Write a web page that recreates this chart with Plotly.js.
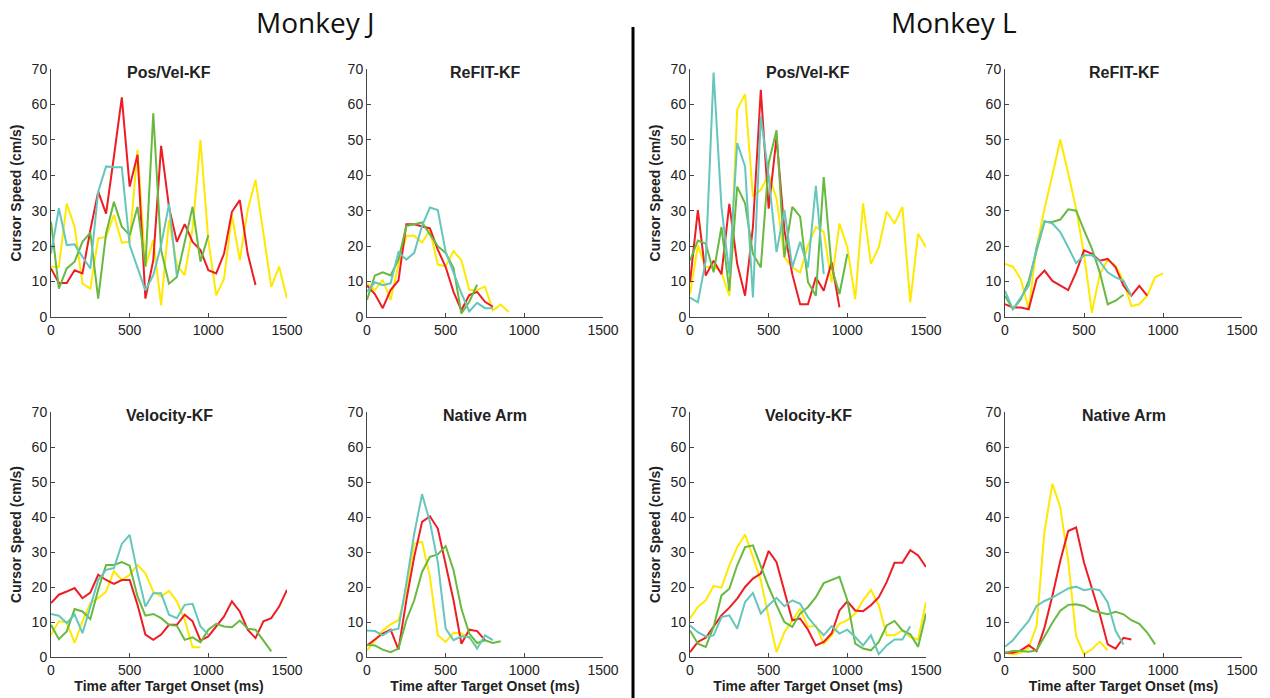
<!DOCTYPE html>
<html>
<head>
<meta charset="utf-8">
<script src="https://cdn.plot.ly/plotly-3.0.1.min.js"></script>
<style>
  html, body { margin: 0; padding: 0; background: #fff; }
  #chart { width: 1270px; height: 698px; }
</style>
</head>
<body>
<div id="chart"></div>
<script>
// Sample times (ms after target onset), one sample every 50 ms
const timeMs = [0, 50, 100, 150, 200, 250, 300, 350, 400, 450, 500, 550, 600, 650, 700, 750,
  800, 850, 900, 950, 1000, 1050, 1100, 1150, 1200, 1250, 1300, 1350, 1400, 1450, 1500];

const panelTitles = ['Pos/Vel-KF', 'ReFIT-KF', 'Pos/Vel-KF', 'ReFIT-KF',
  'Velocity-KF', 'Native Arm', 'Velocity-KF', 'Native Arm'];
const groupTitles = ['Monkey J', 'Monkey L'];
const xTicks = [0, 500, 1000, 1500];
const yTicks = [0, 10, 20, 30, 40, 50, 60, 70];

// ---- Monkey J, Pos/Vel-KF (cursor speed, cm/s)
const jPosVelRed = [13.7, 9.6, 9.6, 13.2, 12.3, 24.5, 35.4, 29.2, 45.3, 62, 36.8, 45.8, 5.2, 16, 48.3, 31,
  21.2, 26.2, 21.2, 18.9, 13.2, 12.3, 17.9, 29.7, 33, 17.9, 9];
const jPosVelYellow = [14.2, 14.2, 32, 25.5, 9.4, 8, 22.2, 22.6, 28.8, 21, 21.2, 47.2, 14.2, 21.7, 3.3, 27.4,
  14.6, 11.8, 25, 50, 21.7, 6.1, 10.8, 28.8, 16, 30.2, 38.7, 23.6, 8.5, 14.2, 5.2];
const jPosVelGreen = [26.9, 8, 13.7, 15.6, 21.2, 23.8, 5.2, 23.6, 32.5, 25.5, 23.1, 31.1, 14.2, 57.5, 18.9, 9.4,
  11.3, 20.8, 31.1, 15.6, 23.1];
const jPosVelTeal = [17.9, 30.7, 20.3, 20.5, 17, 13.7, 35.4, 42.5, 42.3, 42.3, 20.3, 14.2, 7.5, 11.8, 20.3, 31.9, 11.5];

// ---- Monkey J, ReFIT-KF
const jRefitRed = [8.9, 6.5, 2.5, 7.6, 10.3, 26.2, 26.2, 25.7, 25, 19, 14.1, 7.1, 1.9, 6.2, 7.1, 4.3, 2.9];
const jRefitYellow = [9.5, 7.6, 10.5, 4.8, 14.8, 22.9, 22.9, 21, 24.5, 14.8, 14.3, 18.6, 16, 7.6, 7.6, 8.6,
  1.9, 3.5, 1.4];
const jRefitGreen = [4.8, 11.7, 12.6, 11.7, 16.2, 25.7, 26.2, 26.7, 23.3, 20, 18.1, 13.8, 1, 4.3, 9.1];
const jRefitTeal = [7.1, 9.8, 9, 9.5, 18.3, 16.2, 18.1, 25.7, 30.9, 30.2, 18.4, 12.4, 6.7, 1.6, 4, 2.5, 2.5];

// ---- Monkey L, Pos/Vel-KF
const lPosVelRed = [9.8, 30.2, 11.7, 15.9, 12.1, 31.9, 15, 6, 25.4, 64.1, 30.6, 50.6, 24.5, 12.1, 3.6, 3.6,
  11.2, 7.4, 15.5, 2.7];
const lPosVelYellow = [6.5, 20.2, 14, 14.5, 12.6, 6, 58.6, 62.9, 34, 35.9, 40.1, 33.5, 16.9, 14, 12.6, 20.2,
  25.4, 24, 9.8, 26.4, 19.7, 5, 32.1, 15, 19.7, 29.7, 26.4, 31.1, 4.1, 23.5, 19.7];
const lPosVelGreen = [15.9, 21.6, 20.7, 12.6, 25.4, 7.4, 36.8, 32.1, 17.8, 14, 43.5, 52.7, 16.9, 31.1, 28.3, 9.8,
  6, 39.5, 14, 6.5, 17.8];
const lPosVelTeal = [5.5, 4.1, 15.9, 69, 31.1, 12.1, 49.1, 42.5, 5.5, 56.7, 39.7, 18.3, 30.2, 14, 21.2, 14,
  37, 12.1];

// ---- Monkey L, ReFIT-KF
const lRefitRed = [3.6, 2.7, 2.7, 2.2, 10.7, 13.1, 10.2, 8.8, 7.6, 12.6, 18.8, 17.8, 15.9, 16.4, 14, 8.8,
  6, 8.8, 6];
const lRefitYellow = [15, 14.2, 10.7, 2.2, 19.7, 30.6, 40.1, 50.1, 40.6, 30.6, 17.8, 1.2, 12.1, 16.1, 14.5, 10.2,
  3.1, 3.6, 6, 11.2, 12.3];
const lRefitGreen = [6, 2.2, 5, 10.2, 18.8, 26.8, 26.8, 27.5, 30.4, 30, 24.5, 19.3, 12.6, 3.6, 4.6, 6.3];
const lRefitTeal = [7.4, 2.2, 5.5, 8.8, 19.7, 27.1, 26.4, 24, 19.7, 15.2, 17.4, 17.4, 15.7, 12.6, 11.2, 10.2, 6];

// ---- Monkey J, Velocity-KF
const jVelRed = [15.4, 17.8, 18.7, 19.7, 16.8, 18.4, 23.5, 22, 20.9, 22, 22, 14.9, 6.4, 4.9, 6.4, 9.2,
  9.2, 12.1, 10.2, 4.7, 5.9, 8.7, 11.6, 15.9, 13, 7.8, 5.4, 10.2, 11.1, 14.4, 19.2];
const jVelYellow = [6.4, 10.2, 9.9, 4, 10.2, 15.4, 16.8, 18.7, 24.5, 22, 23.5, 26.3, 23.9, 18.7, 17.3, 18.9,
  15.9, 10.6, 2.8, 2.8];
const jVelGreen = [9.2, 5.1, 7.3, 13.7, 13, 10.8, 19.2, 26.3, 26.3, 27.1, 26.1, 17.3, 11.8, 12.3, 11.1, 9.2,
  8.9, 4.9, 5.6, 4.2, 7.8, 9.5, 8.7, 8.5, 10.4, 8.1, 7.8, 4.7, 1.6];
const jVelTeal = [12.3, 11.8, 9.7, 12.1, 6.8, 14.4, 22, 24.9, 25.4, 32.3, 34.9, 23.9, 14.4, 18.2, 18.2, 12.1,
  11.1, 14.9, 15.2, 8.7, 6.4];

// ---- Monkey J, Native Arm
const jArmRed = [3.3, 5, 6.7, 7.8, 2.1, 16.2, 28.6, 38.6, 40.2, 36.7, 26.7, 16.2, 3.8, 7.8, 7.4, 4.8];
const jArmYellow = [1.9, 4.8, 7.6, 9.3, 10.5, 18.6, 32.4, 32.9, 22.9, 6.2, 4.3, 6.9, 6.7, 5.5, 2.9];
const jArmGreen = [3.5, 3.3, 2.1, 1.4, 2.4, 10.5, 16.2, 24.3, 28.6, 29.3, 31.7, 24.8, 13.8, 6.7, 4, 4.8, 4, 4.5];
const jArmTeal = [7.6, 7.4, 6.2, 7.6, 8.1, 21, 35.2, 46.5, 38.6, 27.1, 8.1, 4.8, 5.9, 5.7, 2.4, 6.2, 4.8];

// ---- Monkey L, Velocity-KF
const lVelRed = [1.4, 4.3, 5.5, 8.6, 11.9, 14.1, 16.7, 20, 22.4, 23.8, 30.3, 27.1, 18.6, 10.5, 11, 7.8,
  3.3, 4.3, 6.7, 13.3, 15.9, 13.3, 13.1, 14.8, 17.1, 21.4, 26.9, 26.9, 30.5, 29, 25.7];
const lVelYellow = [11, 14.3, 16.2, 20.3, 19.8, 26.2, 31.4, 35, 28.6, 21.9, 11.4, 1.4, 7.1, 10.5, 13.8, 8.6,
  9, 3.8, 6.2, 9.5, 10.5, 12.4, 16.2, 19.2, 14.8, 6.2, 6.2, 7.6, 5.7, 5, 15.7];
const lVelGreen = [7.6, 3.8, 2.9, 8.6, 17.6, 19.5, 26.2, 31.4, 31.9, 25.7, 20, 14.8, 10, 8.6, 12.4, 14.3,
  17.1, 21.1, 21.9, 22.9, 16.2, 3.8, 2.4, 1.9, 4.3, 9, 10.3, 7.6, 6.5, 2.9, 12.4];
const lVelTeal = [9, 7.1, 5.9, 6.2, 11.4, 11.9, 8.1, 15.7, 18.3, 12.4, 14.8, 16.9, 14.5, 16.2, 15.2, 11.4,
  8.6, 6.2, 8.8, 6.7, 7.8, 5.7, 3.3, 6.2, 0.8, 3.3, 5, 5, 8.8];

// ---- Monkey L, Native Arm
const lArmRed = [1.2, 1.2, 1.9, 3.4, 1.7, 8.4, 17.5, 27.5, 36, 37, 27, 19.8, 12.2, 3.6, 2.4, 5.5, 5];
const lArmYellow = [1.2, 0.8, 1.2, 2.7, 8.9, 36, 49.5, 42.7, 27.5, 6, 0.8, 2.2, 4.4, 1.9];
const lArmGreen = [1.2, 1.7, 1.7, 1.5, 1.9, 6, 9.8, 13.2, 14.9, 15.1, 14.6, 13.2, 12.7, 12.2, 12.9, 12.2,
  10.5, 9.5, 7, 3.6];
const lArmTeal = [2.9, 4.8, 7.6, 10.3, 14.6, 16, 17, 18.4, 19.6, 20.1, 19.1, 19.5, 19.1, 15.6, 7.5, 3.6];

// Line colours used in every panel
const COLORS = { yellow: '#ffe900', red: '#ee1d24', green: '#67b93f', teal: '#66c6bb' };

// Panel contents, in subplot order (top row left to right, then bottom row)
const panelSeries = [
  { yellow: jPosVelYellow, red: jPosVelRed, green: jPosVelGreen, teal: jPosVelTeal },
  { yellow: jRefitYellow, red: jRefitRed, green: jRefitGreen, teal: jRefitTeal },
  { yellow: lPosVelYellow, red: lPosVelRed, green: lPosVelGreen, teal: lPosVelTeal },
  { yellow: lRefitYellow, red: lRefitRed, green: lRefitGreen, teal: lRefitTeal },
  { yellow: jVelYellow, red: jVelRed, green: jVelGreen, teal: jVelTeal },
  { yellow: jArmYellow, red: jArmRed, green: jArmGreen, teal: jArmTeal },
  { yellow: lVelYellow, red: lVelRed, green: lVelGreen, teal: lVelTeal },
  { yellow: lArmYellow, red: lArmRed, green: lArmGreen, teal: lArmTeal }
];

const W = 1270, H = 698;
// Axis boxes in pixels: columns [left, right], rows [top, bottom]
const colPx = [[51, 287], [367, 603], [690, 926], [1005, 1242]];
const rowPx = [[69, 317], [412, 657]];

const FONT = 'Liberation Sans, Arial, Helvetica, sans-serif';
const traces = [];
const layout = {
  width: W, height: H,
  margin: { l: 0, r: 0, t: 0, b: 0 },
  paper_bgcolor: '#fff', plot_bgcolor: '#fff',
  showlegend: false,
  font: { family: FONT, size: 14, color: '#222' },
  annotations: [], shapes: []
};

panelSeries.forEach((series, i) => {
  const n = i + 1;
  const row = Math.floor(i / 4), col = i % 4;
  const xName = 'xaxis' + (n === 1 ? '' : n), yName = 'yaxis' + (n === 1 ? '' : n);
  const xRef = 'x' + (n === 1 ? '' : n), yRef = 'y' + (n === 1 ? '' : n);

  ['yellow', 'red', 'green', 'teal'].forEach(key => {
    const ys = series[key];
    traces.push({
      type: 'scatter', mode: 'lines',
      x: timeMs.slice(0, ys.length), y: ys,
      xaxis: xRef, yaxis: yRef,
      line: { color: COLORS[key], width: 2 },
      hoverinfo: 'skip'
    });
  });

  const common = {
    showline: true, linecolor: '#444', linewidth: 1,
    ticks: 'inside', ticklen: 4, tickcolor: '#444',
    showgrid: false, zeroline: false, fixedrange: true,
    tickfont: { family: FONT, size: 14, color: '#222' }
  };
  layout[xName] = Object.assign({}, common, {
    domain: [colPx[col][0] / W, colPx[col][1] / W],
    anchor: yRef, range: [0, 1500],
    tickmode: 'array', tickvals: xTicks, ticktext: xTicks.map(String)
  });
  layout[yName] = Object.assign({}, common, {
    domain: [1 - rowPx[row][1] / H, 1 - rowPx[row][0] / H],
    anchor: xRef, range: [0, 70],
    tickmode: 'array', tickvals: yTicks, ticktext: yTicks.map(String)
  });
  if (col === 0 || col === 2) {
    layout[yName].title = { text: 'Cursor Speed (cm/s)', standoff: 6,
      font: { family: FONT, size: 14, color: '#222', weight: 'bold' } };
  }
  if (row === 1) {
    layout[xName].title = { text: 'Time after Target Onset (ms)', standoff: 2,
      font: { family: FONT, size: 14, color: '#222', weight: 'bold' } };
  }

  // Panel title above each axis box
  layout.annotations.push({
    text: '<b>' + panelTitles[i] + '</b>',
    xref: 'paper', yref: 'paper',
    x: (colPx[col][0] + colPx[col][1]) / 2 / W,
    y: 1 - (rowPx[row][0] + 3) / H,
    xanchor: 'center', yanchor: 'middle', showarrow: false,
    font: { family: FONT, size: 16, color: '#222' }
  });
});

// Group headings
[[315, groupTitles[0]], [954, groupTitles[1]]].forEach(([px, label]) => {
  layout.annotations.push({
    text: label, xref: 'paper', yref: 'paper',
    x: px / W, y: 1 - 22 / H, xanchor: 'center', yanchor: 'middle', showarrow: false,
    font: { family: 'Open Sans, Liberation Sans, sans-serif', size: 28, color: '#111' }
  });
});

// Divider between the two monkeys
layout.shapes.push({
  type: 'line', xref: 'paper', yref: 'paper',
  x0: 633 / W, x1: 633 / W, y0: 0, y1: 1 - 27 / H,
  line: { color: '#000', width: 3 }
});

Plotly.newPlot('chart', traces, layout, { staticPlot: true, displayModeBar: false });
</script>
</body>
</html>
